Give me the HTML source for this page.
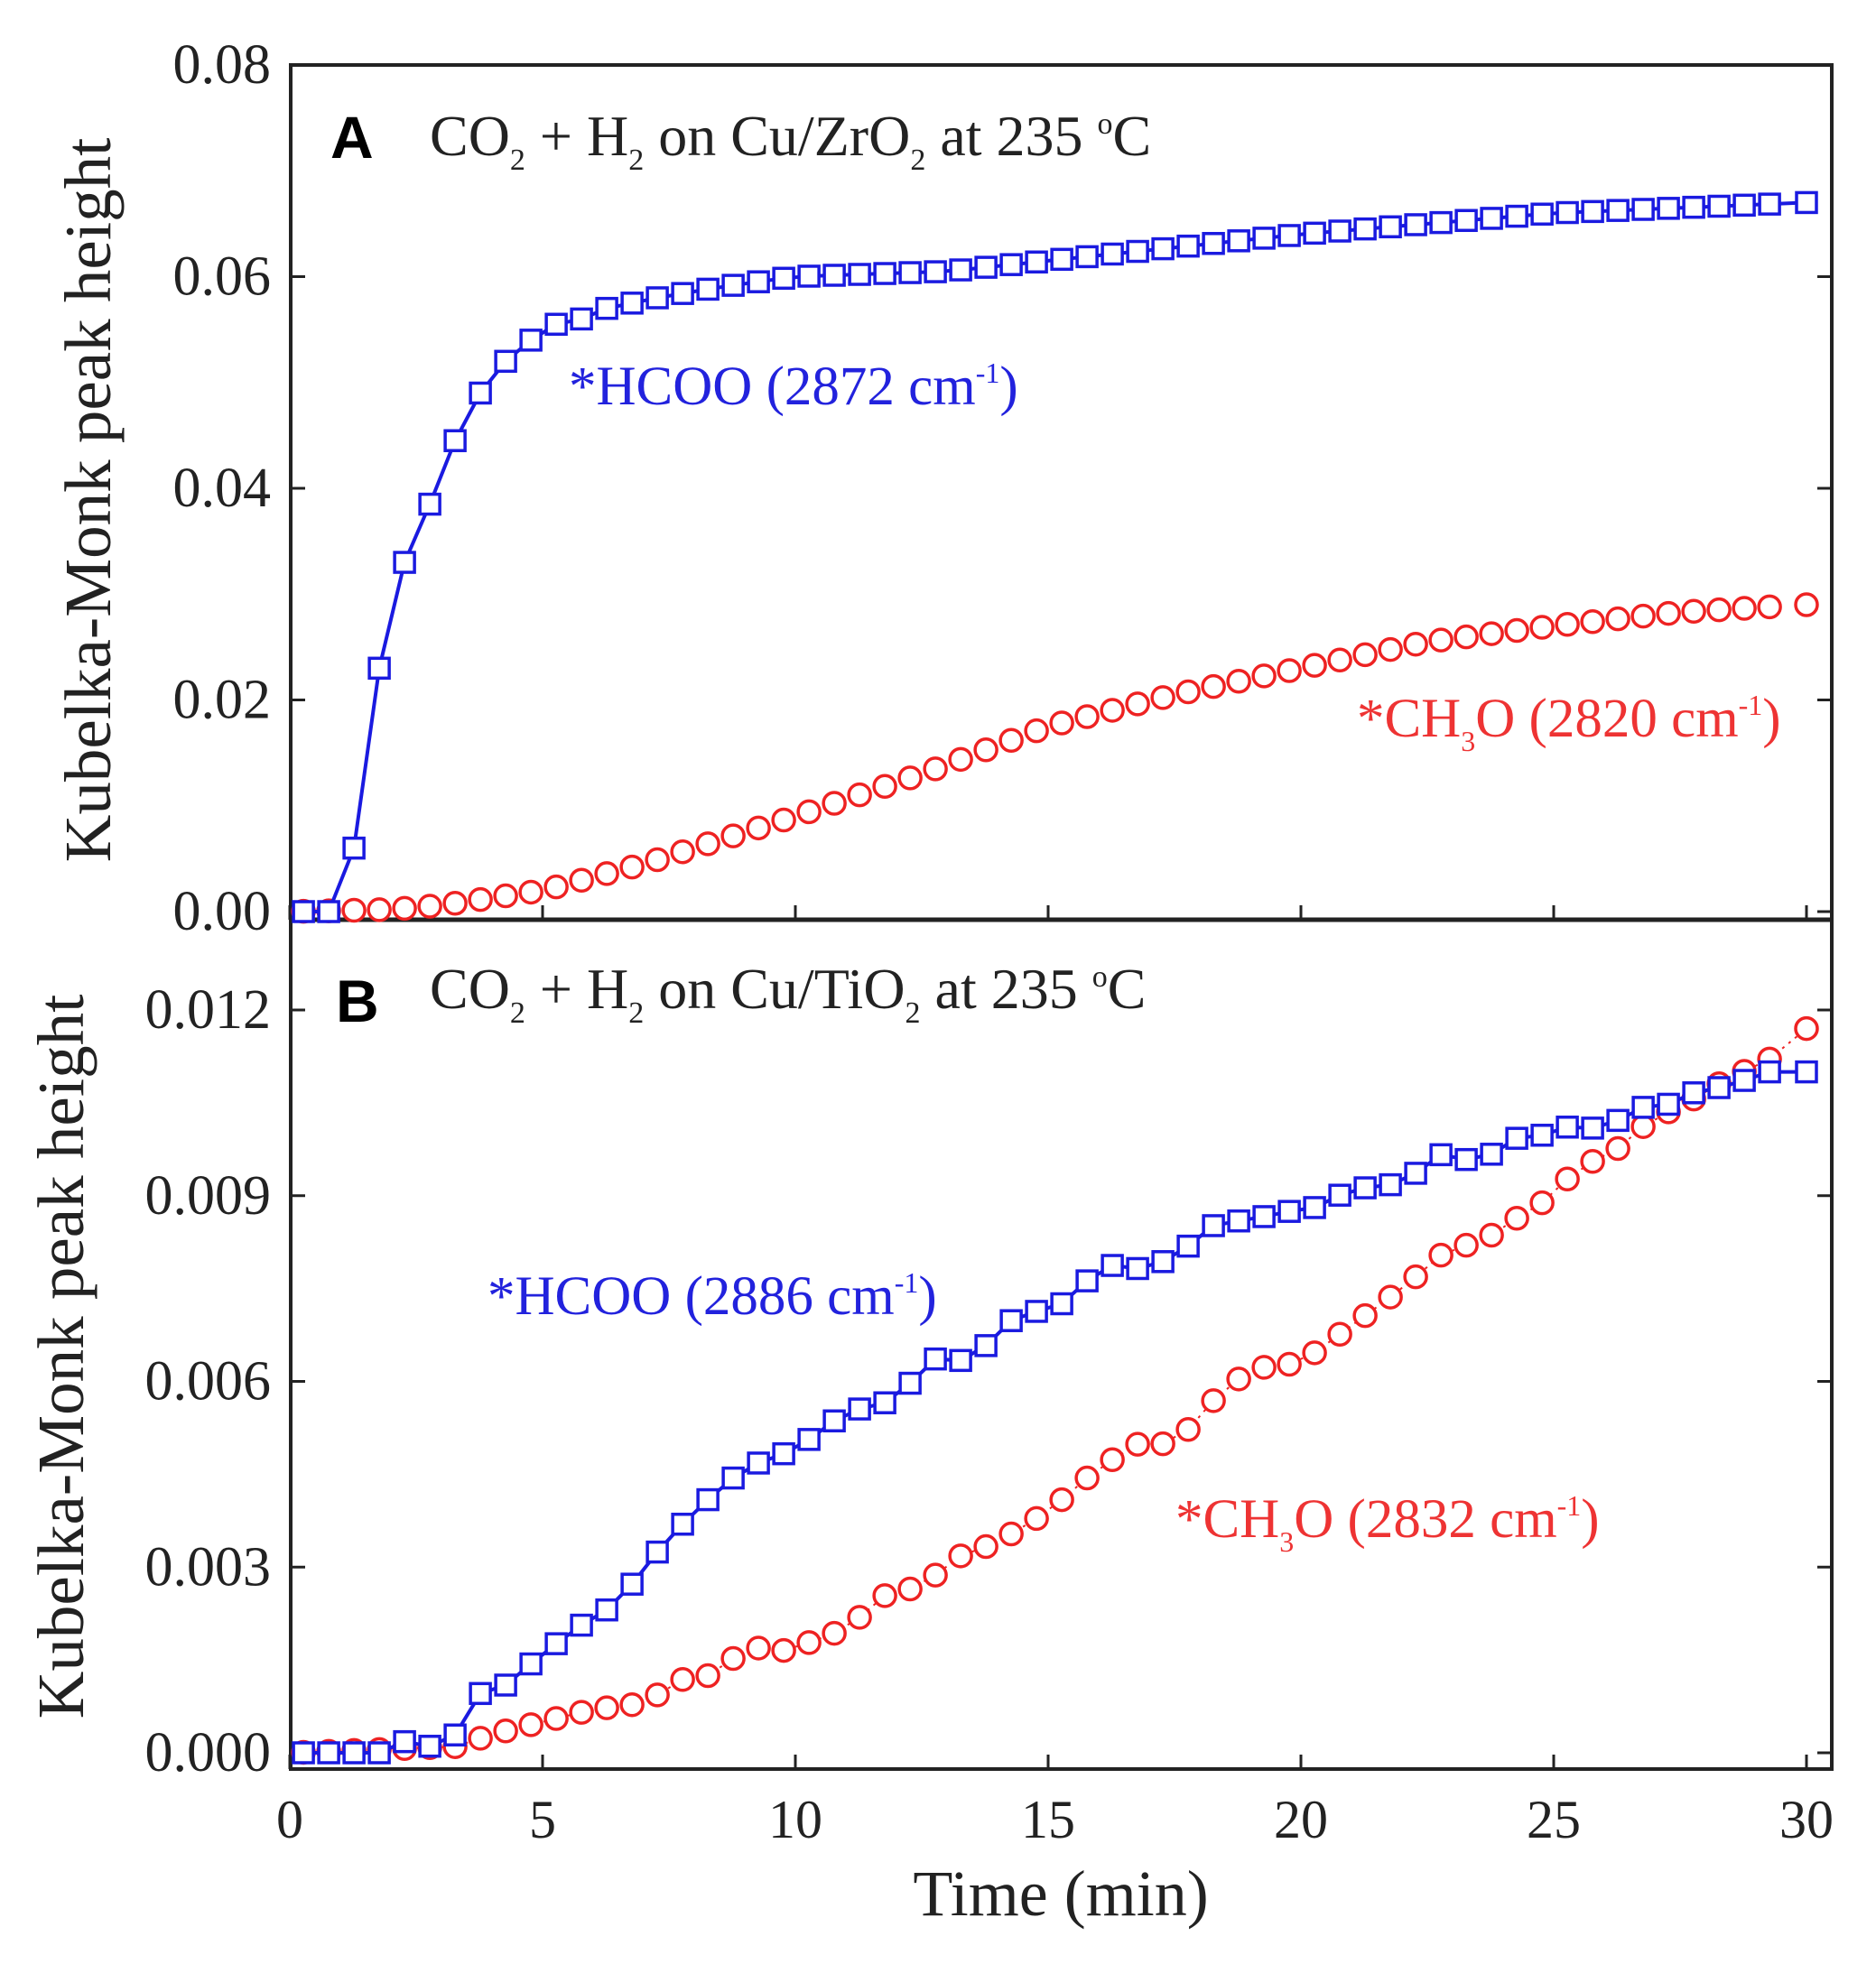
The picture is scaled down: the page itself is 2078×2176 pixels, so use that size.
<!DOCTYPE html>
<html><head><meta charset="utf-8"><style>
html,body{margin:0;padding:0;background:#fff;}
svg{display:block;}
</style></head><body>
<svg id="s" width="2078" height="2176" xmlns="http://www.w3.org/2000/svg" font-family="Liberation Serif, serif">
<rect width="2078" height="2176" fill="#fff"/>
<g id="g"></g>
<text x="366" y="175" font-family="Liberation Sans, sans-serif" font-weight="bold" font-size="66">A</text>
<text x="476" y="172" font-size="64" fill="#222">CO<tspan font-size="34" dy="16">2</tspan><tspan dy="-16"> + H</tspan><tspan font-size="34" dy="16">2</tspan><tspan dy="-16"> on Cu/ZrO</tspan><tspan font-size="34" dy="16">2</tspan><tspan dy="-16"> at 235 </tspan><tspan font-size="34" dy="-24">o</tspan><tspan dy="24">C</tspan></text>
<text x="372" y="1132" font-family="Liberation Sans, sans-serif" font-weight="bold" font-size="66">B</text>
<text x="476" y="1117" font-size="64" fill="#222">CO<tspan font-size="34" dy="16">2</tspan><tspan dy="-16"> + H</tspan><tspan font-size="34" dy="16">2</tspan><tspan dy="-16"> on Cu/TiO</tspan><tspan font-size="34" dy="16">2</tspan><tspan dy="-16"> at 235 </tspan><tspan font-size="34" dy="-24">o</tspan><tspan dy="24">C</tspan></text>
<text x="630" y="448" font-size="61" fill="#2222dd">*HCOO (2872 cm<tspan font-size="32" dy="-24">-1</tspan><tspan dy="24">)</tspan></text>
<text x="1503" y="816" font-size="61" fill="#ee3333">*CH<tspan font-size="32" dy="16">3</tspan><tspan dy="-16">O (2820 cm</tspan><tspan font-size="32" dy="-24">-1</tspan><tspan dy="24">)</tspan></text>
<text x="540" y="1456" font-size="61" fill="#2222dd">*HCOO (2886 cm<tspan font-size="32" dy="-24">-1</tspan><tspan dy="24">)</tspan></text>
<text x="1302" y="1703" font-size="61" fill="#ee3333">*CH<tspan font-size="32" dy="16">3</tspan><tspan dy="-16">O (2832 cm</tspan><tspan font-size="32" dy="-24">-1</tspan><tspan dy="24">)</tspan></text>
<text transform="translate(122,554) rotate(-90)" text-anchor="middle" font-size="73" fill="#222">Kubelka-Monk peak height</text>
<text transform="translate(92,1503) rotate(-90)" text-anchor="middle" font-size="73" fill="#222">Kubelka-Monk peak height</text>
<text x="1175" y="2122" text-anchor="middle" font-size="72" fill="#222">Time (min)</text>
</svg>
<script>
var g=document.getElementById('g'),NS='http://www.w3.org/2000/svg';
function el(t,a,txt){var e=document.createElementNS(NS,t);for(var k in a)e.setAttribute(k,a[k]);if(txt!==undefined)e.textContent=txt;g.appendChild(e);return e;}
var L=322,R=2029,TA=72,SEP=1019,BB=1960;
function X(t){return 321+t*56;}
function YA(v){return 1010-v/0.02*234.5;}
function YB(v){return 1942-v/0.003*205.75;}
el('rect',{x:L,y:TA,width:R-L,height:BB-TA,fill:'none',stroke:'#222','stroke-width':4});
el('line',{x1:L,y1:SEP,x2:R,y2:SEP,stroke:'#222','stroke-width':5});
for(var i=0;i<=6;i++){var x=X(i*5);
 el('line',{x1:x,y1:SEP,x2:x,y2:SEP-16,stroke:'#222','stroke-width':3});
 el('line',{x1:x,y1:BB,x2:x,y2:BB-16,stroke:'#222','stroke-width':3});
 el('text',{x:x,y:2036,'text-anchor':'middle','font-size':60,fill:'#222'},String(i*5));}
for(var i=0;i<=4;i++){var y=YA(i*0.02);
 if(i<4){el('line',{x1:L,y1:y,x2:L+16,y2:y,stroke:'#222','stroke-width':3});el('line',{x1:R,y1:y,x2:R-16,y2:y,stroke:'#222','stroke-width':3});}
 el('text',{x:300,y:y+20,'text-anchor':'end','font-size':62,fill:'#222'},(i*0.02).toFixed(2));}
for(var i=0;i<=4;i++){var y=YB(i*0.003);
 el('line',{x1:L,y1:y,x2:L+16,y2:y,stroke:'#222','stroke-width':3});el('line',{x1:R,y1:y,x2:R-16,y2:y,stroke:'#222','stroke-width':3});
 el('text',{x:300,y:y+20,'text-anchor':'end','font-size':62,fill:'#222'},(i*0.003).toFixed(3));}
function interp(pts,t){if(t<=pts[0][0])return pts[0][1];for(var i=1;i<pts.length;i++){if(t<=pts[i][0]){var a=pts[i-1],b=pts[i];return a[1]+(b[1]-a[1])*(t-a[0])/(b[0]-a[0]);}}return pts[pts.length-1][1];}
var ts=[];for(var k=0;k<60;k++)ts.push(0.27+0.5*k);ts[59]=30;
var aH=[[0,0],[0.77,0],[1.27,0.006],[1.77,0.023],[2.27,0.033],[2.77,0.0385],[3.27,0.0445],[3.77,0.049],[4.27,0.052],[4.77,0.054],[5.27,0.0555],[5.77,0.056],[6.27,0.057],[7.27,0.058],[8.5,0.059],[10,0.06],[13,0.0605],[16,0.062],[20,0.064],[25,0.066],[30,0.067]];
var aC=[[0,0],[2,0.0002],[3,0.0006],[5,0.002],[7,0.0045],[10,0.009],[12.5,0.013],[15,0.0175],[17.5,0.0205],[20,0.023],[22.5,0.0255],[25,0.027],[27.5,0.0283],[30,0.029]];
var bH=[[0,0],[2,0],[2.3,0.0002],[2.8,0.0001],[3.3,0.0003],[3.8,0.001],[4.3,0.0011],[5,0.0016],[6,0.0022],[6.5,0.0024],[7,0.003],[8,0.0039],[9,0.0046],[10,0.0049],[11,0.0055],[12,0.0057],[12.5,0.0062],[13,0.0065],[13.5,0.0062],[14,0.0069],[15,0.0072],[15.5,0.0073],[16,0.0079],[17,0.0078],[18,0.0083],[18.5,0.0087],[19,0.0085],[19.5,0.0088],[20,0.0087],[21,0.0091],[22,0.0092],[23,0.0098],[23.5,0.0094],[24,0.0099],[25,0.01],[25.5,0.0102],[26,0.01],[26.5,0.0104],[27.5,0.0105],[28,0.0108],[28.5,0.0107],[29,0.011],[30,0.011]];
var bC=[[0,0],[3.3,0.0001],[4,0.0003],[5,0.0005],[6,0.0007],[7,0.0008],[8,0.0013],[8.5,0.0012],[9,0.0018],[9.5,0.0016],[10,0.0017],[11,0.002],[12,0.0027],[12.5,0.0026],[13,0.0031],[14,0.0034],[15,0.0039],[16,0.0046],[17,0.0051],[17.5,0.0049],[18,0.0055],[19,0.0062],[20,0.0063],[21,0.0069],[22,0.0075],[23,0.0082],[23.5,0.0082],[24,0.0085],[25,0.009],[25.5,0.0095],[26,0.0096],[26.5,0.0099],[27,0.0103],[27.5,0.0104],[28,0.0107],[28.5,0.0109],[29,0.0111],[29.5,0.0113],[30,0.0117]];
function series(data,Y,kind,col,line){
 var p=[];for(var k=0;k<ts.length;k++){p.push([X(ts[k]),Y(interp(data,ts[k]))]);}
 if(line)el('polyline',{points:p.map(function(q){return q[0].toFixed(1)+','+q[1].toFixed(1)}).join(' '),fill:'none',stroke:col,'stroke-width':line,'stroke-dasharray':kind=='c'?'3,6':'none'});
 p.forEach(function(q){
  if(kind=='s')el('rect',{x:q[0]-11,y:q[1]-11,width:22,height:22,fill:'#fff',stroke:col,'stroke-width':3.5});
  else el('circle',{cx:q[0],cy:q[1],r:12,fill:'#fff',stroke:col,'stroke-width':3.5});});
}
series(aC,YA,'c','#ee2222',0);
series(aH,YA,'s','#1a1ae0',4);
series(bC,YB,'c','#ee2222',2);
series(bH,YB,'s','#1a1ae0',4);
</script>
</body></html>
